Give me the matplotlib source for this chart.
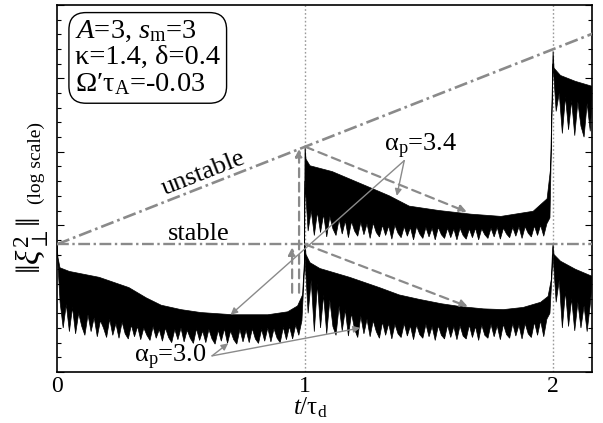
import numpy as np
import matplotlib
matplotlib.use("Agg")
import matplotlib.pyplot as plt
from matplotlib.ticker import FixedLocator, NullFormatter

plt.rcParams["font.family"] = ["Liberation Serif", "DejaVu Serif"]
plt.rcParams["mathtext.fontset"] = "custom"
plt.rcParams["mathtext.rm"] = "Liberation Serif"
plt.rcParams["mathtext.it"] = "Liberation Serif:italic"

# all levels are log10 of ||xi_perp^2||, t in units of tau_d
stable_t = [0.0, 2.16]
stable_log = [1.74, 1.74]
unstable_t = [0.0, 2.16]
unstable_log = [1.74, 4.61]

# alpha_p = 3.0 : smooth upper edge of the noisy band, (t, log value)
a30_top = [
    (0.000, 1.74), (0.004, 1.56), (0.012, 1.42), (0.050, 1.37), (0.170, 1.29),
    (0.290, 1.15), (0.360, 1.01), (0.420, 0.91), (0.500, 0.85), (0.580, 0.81),
    (0.710, 0.78), (0.850, 0.78), (0.930, 0.82), (0.970, 0.90), (0.990, 1.05),
    (0.998, 1.53),
    (1.000, 1.74), (1.004, 1.60), (1.020, 1.49), (1.060, 1.41), (1.180, 1.29),
    (1.300, 1.15), (1.380, 1.05), (1.460, 0.99), (1.550, 0.93), (1.630, 0.89),
    (1.720, 0.86), (1.800, 0.85), (1.880, 0.88), (1.950, 0.95), (1.980, 1.03),
    (1.993, 1.26), (1.998, 1.67),
    (2.000, 1.74), (2.004, 1.60), (2.030, 1.51), (2.090, 1.40), (2.160, 1.30),
]
# alpha_p = 3.0 : ragged lower edge, sampled every 0.0125 tau_d
a30_low_1 = [  # t = 0 ... 1
    1.70, 0.95, 0.60, 0.92, 0.55, 0.88, 0.52, 0.80, 0.62, 0.50,
    0.78, 0.55, 0.74, 0.48, 0.70, 0.60, 0.47, 0.72, 0.50, 0.66,
    0.46, 0.68, 0.52, 0.45, 0.64, 0.48, 0.62, 0.44, 0.60, 0.50,
    0.43, 0.62, 0.46, 0.58, 0.42, 0.60, 0.47, 0.40, 0.58, 0.44,
    0.60, 0.41, 0.57, 0.46, 0.39, 0.59, 0.43, 0.56, 0.40, 0.58,
    0.45, 0.38, 0.57, 0.42, 0.59, 0.39, 0.56, 0.44, 0.38, 0.58,
    0.41, 0.57, 0.40, 0.59, 0.45, 0.39, 0.58, 0.42, 0.60, 0.41,
    0.59, 0.46, 0.40, 0.61, 0.44, 0.62, 0.45, 0.64, 0.50, 0.70,
    1.55,
]
a30_low_2 = [  # t = 1.0125 ... 2
    0.80, 1.25, 0.55, 1.20, 0.60, 1.05, 0.52, 0.98, 0.62, 0.50,
    0.90, 0.56, 0.85, 0.49, 0.80, 0.58, 0.47, 0.76, 0.52, 0.72,
    0.48, 0.70, 0.55, 0.46, 0.68, 0.50, 0.66, 0.45, 0.65, 0.52,
    0.47, 0.66, 0.49, 0.63, 0.44, 0.64, 0.51, 0.46, 0.65, 0.48,
    0.62, 0.43, 0.63, 0.50, 0.45, 0.64, 0.47, 0.62, 0.44, 0.63,
    0.49, 0.45, 0.64, 0.47, 0.62, 0.43, 0.64, 0.50, 0.46, 0.65,
    0.48, 0.63, 0.44, 0.65, 0.51, 0.46, 0.66, 0.49, 0.64, 0.45,
    0.66, 0.52, 0.47, 0.68, 0.50, 0.70, 0.48, 0.72, 0.80, 1.60,
]
a30_low_3 = [  # t = 2.0125 ... 2.15
    0.95, 1.25, 0.60, 1.10, 0.62, 1.00, 0.56, 0.95, 0.60, 0.90, 0.55, 0.92,
]

# alpha_p = 3.4 (identical to 3.0 during the first period)
a34_top = [
    (0.998, 1.50), (1.000, 3.07), (1.004, 2.90), (1.020, 2.81), (1.110, 2.73),
    (1.250, 2.53), (1.340, 2.40), (1.420, 2.26), (1.540, 2.20), (1.670, 2.15),
    (1.790, 2.12), (1.920, 2.19), (1.976, 2.36), (1.990, 2.77),
    (2.000, 4.37), (2.004, 4.14), (2.030, 4.04), (2.090, 3.96), (2.160, 3.89),
]
a34_low_2 = [  # t = 1 ... 2
    2.60, 1.92, 2.20, 1.86, 2.18, 1.90, 2.15, 1.84, 2.12, 1.95,
    1.86, 2.08, 1.88, 2.06, 1.83, 2.05, 1.92, 1.85, 2.04, 1.87,
    2.02, 1.82, 2.03, 1.90, 1.84, 2.00, 1.86, 1.99, 1.81, 2.00,
    1.89, 1.83, 1.98, 1.85, 1.97, 1.80, 1.98, 1.88, 1.82, 1.97,
    1.84, 1.96, 1.80, 1.97, 1.87, 1.82, 1.96, 1.83, 1.95, 1.80,
    1.96, 1.86, 1.81, 1.95, 1.83, 1.96, 1.80, 1.95, 1.87, 1.82,
    1.96, 1.84, 1.97, 1.81, 1.96, 1.88, 1.83, 1.97, 1.85, 1.98,
    1.82, 1.98, 1.89, 1.84, 1.99, 1.86, 2.00, 1.85, 2.02, 2.10,
    4.20,
]
a34_low_3 = [  # t = 2.0125 ... 2.15
    3.55, 3.80, 3.25, 3.75, 3.30, 3.70, 3.22, 3.68, 3.35, 3.20, 3.66, 3.28,
]

GRAY = "#8a8a8a"


def lin(v):
    return np.power(10.0, np.asarray(v, dtype=float))


def band(ax, top, low_t, low_v):
    t = [p[0] for p in top] + list(low_t[::-1])
    v = [p[1] for p in top] + list(low_v[::-1])
    ax.fill(t, lin(v), facecolor="black", edgecolor="black", lw=0.5, zorder=2)


def arrow(ax, t0, v0, t1, v1, dashed=False):
    kw = dict(arrowstyle="-|>", color=GRAY, lw=1.0, mutation_scale=10,
              shrinkA=0, shrinkB=0)
    if dashed:
        kw.update(lw=1.6, linestyle=(0, (4, 2.5)), mutation_scale=11)
    ax.annotate("", xy=(t1, lin(v1)), xytext=(t0, lin(v0)),
                arrowprops=kw, zorder=4)


fig = plt.figure(figsize=(6.03, 4.23), dpi=100)
ax = fig.add_axes([57 / 603, 1 - 372 / 423, 535 / 603, 367 / 423])

ax.set_yscale("log")
ax.set_xlim(0, 2.157)
ax.set_ylim(1, 1e5)

# reference lines
ax.plot(stable_t, lin(stable_log), color=GRAY, lw=1.7,
        dashes=(5, 1.5, 1, 1.5), zorder=3)
ax.plot(unstable_t, lin(unstable_log), color=GRAY, lw=1.9,
        dashes=(5, 1.5, 1, 1.5), zorder=3)
for tv in (1, 2):
    ax.axvline(tv, color="#9a9a9a", lw=1.0, ls=(0, (1.2, 1.6)), zorder=1)

# noisy bands, lower edges sampled on a 0.0125 grid
step = 0.0125
t1 = np.linspace(0.0, 1.0, len(a30_low_1))
t2 = 1.0 + step * np.arange(1, len(a30_low_2) + 1)
t3 = 2.0 + step * np.arange(1, len(a30_low_3) + 1)
band(ax, a30_top, np.concatenate([t1, t2, t3]),
     np.concatenate([a30_low_1, a30_low_2, a30_low_3]))

u2 = np.linspace(1.0, 2.0, len(a34_low_2))
u3 = 2.0 + step * np.arange(1, len(a34_low_3) + 1)
band(ax, a34_top, np.concatenate([[0.998], u2, u3]),
     np.concatenate([[1.45], a34_low_2, a34_low_3]))

# dashed guides
arrow(ax, 1.0, 3.07, 1.653, 2.18, dashed=True)
arrow(ax, 1.0, 1.74, 1.657, 0.89, dashed=True)
arrow(ax, 0.976, 1.08, 0.976, 3.04, dashed=True)
arrow(ax, 0.948, 1.08, 0.948, 1.70, dashed=True)

# labels of the two runs
ax.text(1.468, lin(3.07), "α$_{\\rm p}$=3.4", ha="center", va="center", fontsize=19)
arrow(ax, 1.40, 2.88, 1.37, 2.40)
arrow(ax, 1.40, 2.88, 0.70, 0.78)
ax.text(0.456, lin(0.205), "α$_{\\rm p}$=3.0", ha="center", va="center", fontsize=19)
arrow(ax, 0.625, 0.22, 0.69, 0.39)
arrow(ax, 0.625, 0.22, 1.222, 0.60)

ax.text(0.589, lin(2.71), "unstable", ha="center", va="center", fontsize=19,
        rotation=21.4)
ax.text(0.57, lin(1.88), "stable", ha="center", va="center", fontsize=19)

ax.text(0.034, 0.962, "$A$=3, $s_{\\rm m}$=3\nκ=1.4, δ=0.4\nΩ′τ$_{\\rm A}$=-0.03",
        transform=ax.transAxes, ha="left", va="top", fontsize=20.5, linespacing=1.05,
        bbox=dict(boxstyle="round,pad=0.22,rounding_size=0.6", fc="white",
                  ec="black", lw=1.0), zorder=5)

# axes cosmetics
ax.yaxis.set_major_locator(FixedLocator([1e0, 1e1, 1e2, 1e3, 1e4, 1e5]))
ax.yaxis.set_minor_locator(FixedLocator(
    [10 ** (k + i / 5) for k in range(5) for i in range(1, 5)]))
ax.yaxis.set_major_formatter(NullFormatter())
ax.yaxis.set_minor_formatter(NullFormatter())
ax.tick_params(axis="y", which="both", direction="in", left=True, right=True)
ax.tick_params(axis="y", which="major", length=5, width=0.8)
ax.tick_params(axis="y", which="minor", length=3, width=0.8)
ax.set_xticks([0, 1, 2])
ax.set_xticklabels(["0", "1", "2"])
ax.tick_params(axis="x", length=0, labelsize=17, pad=3)
for sp in ax.spines.values():
    sp.set_linewidth(1.2)

fig.text(310 / 603, 1 - 408 / 423, "$t$/τ$_{\\rm d}$", ha="center", va="center",
         fontsize=18)
fig.text(32 / 603, 1 - 246 / 423, r"$\Vert\xi_\perp^2\Vert$", rotation=90,
         ha="center", va="center", fontsize=24)
fig.text(36 / 603, 1 - 163 / 423, "(log scale)", rotation=90, ha="center",
         va="center", fontsize=14)

fig.savefig("out.png", dpi=100)
